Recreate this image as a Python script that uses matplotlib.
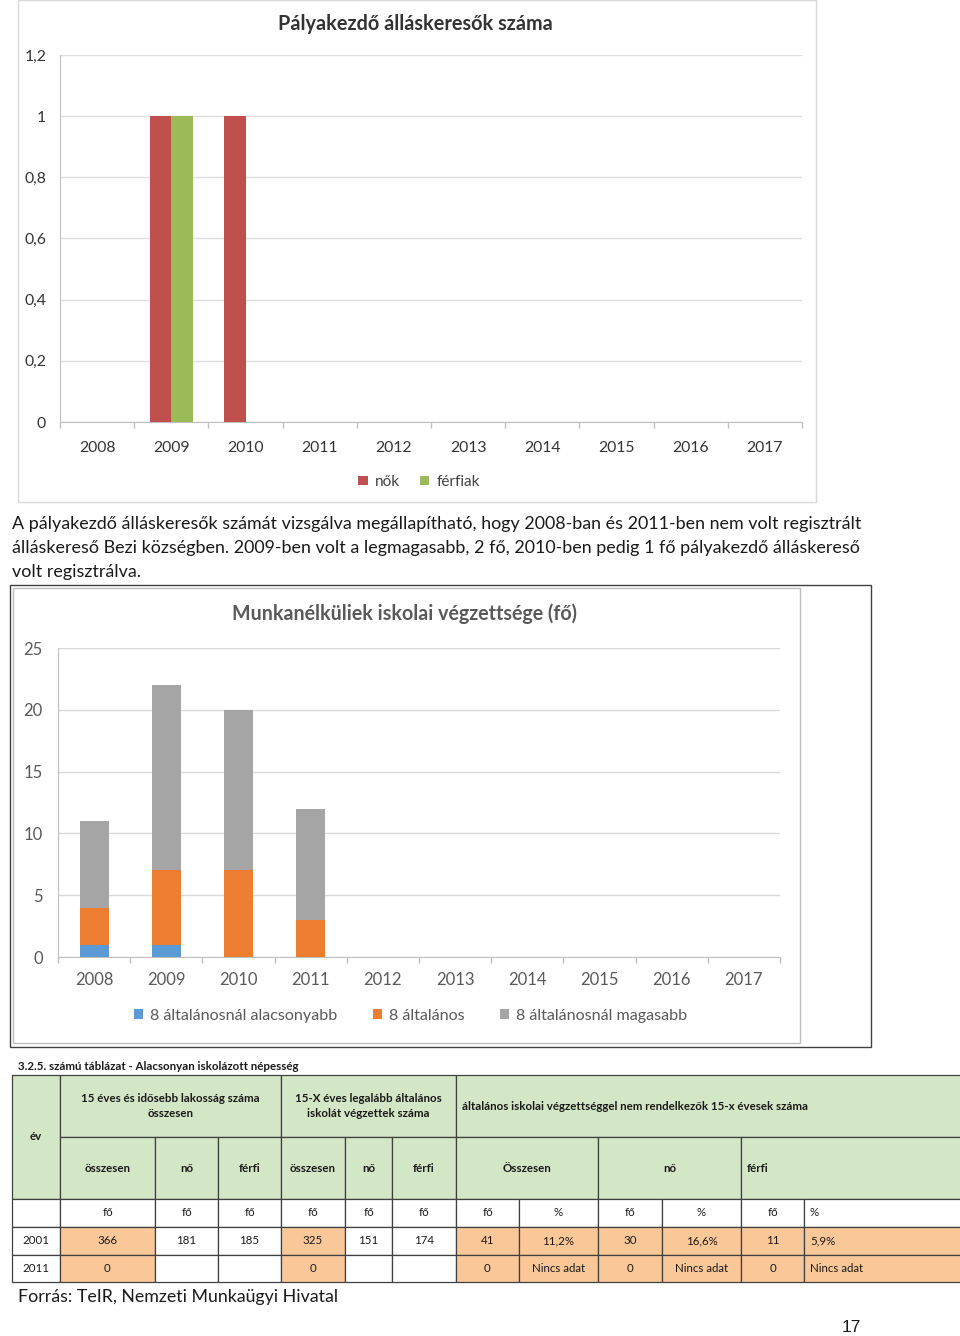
import matplotlib
matplotlib.use("Agg")
import matplotlib.pyplot as plt
from matplotlib.patches import Rectangle
import numpy as np

# ---------------- data ----------------
years = ['2008', '2009', '2010', '2011', '2012', '2013', '2014', '2015', '2016', '2017']
nok = [0, 1, 1, 0, 0, 0, 0, 0, 0, 0]
ferfiak = [0, 1, 0, 0, 0, 0, 0, 0, 0, 0]
y1_ticks = [0, 0.2, 0.4, 0.6, 0.8, 1.0, 1.2]
y1_labels = ['0', '0,2', '0,4', '0,6', '0,8', '1', '1,2']
chart1_title = 'Pályakezdő álláskeresők száma'
chart1_series = ['nők', 'férfiak']

alacsonyabb = [1, 1, 0, 0, 0, 0, 0, 0, 0, 0]
altalanos = [3, 6, 7, 3, 0, 0, 0, 0, 0, 0]
magasabb = [7, 15, 13, 9, 0, 0, 0, 0, 0, 0]
y2_ticks = [0, 5, 10, 15, 20, 25]
chart2_title = 'Munkanélküliek iskolai végzettsége (fő)'
chart2_series = ['8 általánosnál alacsonyabb', '8 általános', '8 általánosnál magasabb']

paragraph = ['A pályakezdő álláskeresők számát vizsgálva megállapítható, hogy 2008-ban és 2011-ben nem volt regisztrált',
             'álláskereső Bezi községben. 2009-ben volt a legmagasabb, 2 fő, 2010-ben pedig 1 fő pályakezdő álláskereső',
             'volt regisztrálva.']

table_caption = '3.2.5. számú táblázat - Alacsonyan iskolázott népesség'
hdr_ev = 'év'
hdr_groups = ['15 éves és idősebb lakosság száma\nösszesen',
              '15-X éves legalább általános\niskolát végzettek száma',
              'általános iskolai végzettséggel nem rendelkezők 15-x évesek száma']
hdr_sub = ['összesen', 'nő', 'férfi', 'összesen', 'nő', 'férfi', 'Összesen', 'nő', 'férfi']
units = ['', 'fő', 'fő', 'fő', 'fő', 'fő', 'fő', 'fő', '%', 'fő', '%', 'fő', '%']
row_2001 = ['2001', '366', '181', '185', '325', '151', '174', '41', '11,2%', '30', '16,6%', '11', '5,9%']
row_2011 = ['2011', '0', '', '', '0', '', '', '0', 'Nincs adat', '0', 'Nincs adat', '0', 'Nincs adat']
source = 'Forrás: TeIR, Nemzeti Munkaügyi Hivatal'
page_no = '17'

# ---------------- layout ----------------
W, H = 960, 1336
fig = plt.figure(figsize=(W / 100, H / 100), dpi=100)
renderer = fig.canvas.get_renderer()
FONT = 'Lato'


def px_axes(x0, y0, x1, y1, **kw):
    return fig.add_axes([x0 / W, 1 - y1 / H, (x1 - x0) / W, (y1 - y0) / H], **kw)


page = px_axes(0, 0, W, H)
page.set_xlim(0, W)
page.set_ylim(H, 0)
page.axis('off')
page.set_zorder(0)


def fit(x, y, s, width, ha='left', va='center', **kw):
    t = page.text(x, y, s, ha=ha, va=va, fontsize=10, family=FONT, **kw)
    bb = t.get_window_extent(renderer)
    fs = 10 * width / bb.width
    t.set_fontsize(fs)
    return fs


# chart frames
page.add_patch(Rectangle((18, 0), 798, 502, fill=False, ec='#d9d9d9', lw=1))
page.add_patch(Rectangle((10, 585), 861, 462, fill=False, ec='#404040', lw=1))
page.add_patch(Rectangle((13, 588), 787, 455, fill=False, ec='#bfbfbf', lw=1))

# ---------------- chart 1 ----------------
ax1 = px_axes(60, 55, 802, 422)
ax1.set_facecolor('none')
x = np.arange(len(years))
bw = 1 / 3.5
b1 = ax1.bar(x - bw / 2, nok, bw, color='#c0504d', zorder=3)
b2 = ax1.bar(x + bw / 2, ferfiak, bw, color='#9bbb59', zorder=3)
ax1.set_xlim(-0.5, len(years) - 0.5)
ax1.set_ylim(0, 1.2)
ax1.set_yticks(y1_ticks)
ax1.set_yticklabels(y1_labels, family=FONT, fontsize=11.3, color='#333333')
ax1.yaxis.grid(True, color='#dedede', lw=1)
ax1.set_axisbelow(True)
ax1.set_xticks(np.arange(len(years) + 1) - 0.5)
ax1.set_xticklabels([])
ax1.set_xticks(x, minor=True)
ax1.set_xticklabels(years, minor=True, family=FONT, fontsize=11.3, color='#333333')
ax1.tick_params(axis='x', which='major', length=4, color='#bfbfbf', width=1)
ax1.tick_params(axis='x', which='minor', length=0, pad=14)
ax1.tick_params(axis='y', length=0, pad=10)
for s in ['top', 'right']:
    ax1.spines[s].set_visible(False)
ax1.spines['left'].set_color('#bfbfbf')
ax1.spines['bottom'].set_color('#bfbfbf')
leg1 = ax1.legend([b1, b2], chart1_series, loc='center', bbox_to_anchor=(0.4845, -0.163), ncol=2,
                  frameon=False, handlelength=0.6, handleheight=0.6, handletextpad=0.5,
                  columnspacing=1.3, prop={'family': FONT, 'size': 11})
for t in leg1.get_texts():
    t.set_color('#404040')
fit(415, 24, chart1_title, 274, ha='center', weight='bold', color='#333333')

# ---------------- chart 2 ----------------
ax2 = px_axes(58, 648, 780, 957)
ax2.set_facecolor('none')
bw2 = 0.4
lo = np.array(alacsonyabb)
mid = np.array(altalanos)
hi = np.array(magasabb)
c1 = ax2.bar(x, lo, bw2, color='#5b9bd5', zorder=3)
c2 = ax2.bar(x, mid, bw2, bottom=lo, color='#ed7d31', zorder=3)
c3 = ax2.bar(x, hi, bw2, bottom=lo + mid, color='#a5a5a5', zorder=3)
ax2.set_xlim(-0.5, len(years) - 0.5)
ax2.set_ylim(0, 25)
ax2.set_yticks(y2_ticks)
ax2.set_yticklabels([str(v) for v in y2_ticks], family=FONT, fontsize=12, color='#595959')
ax2.yaxis.grid(True, color='#d9d9d9', lw=1)
ax2.set_axisbelow(True)
ax2.set_xticks(np.arange(len(years) + 1) - 0.5)
ax2.set_xticklabels([])
ax2.set_xticks(x, minor=True)
ax2.set_xticklabels(years, minor=True, family=FONT, fontsize=12, color='#595959')
ax2.tick_params(axis='x', which='major', length=4, color='#bfbfbf', width=1)
ax2.tick_params(axis='x', which='minor', length=0, pad=11)
ax2.tick_params(axis='y', length=0, pad=11)
for s in ['top', 'right']:
    ax2.spines[s].set_visible(False)
ax2.spines['left'].set_color('#bfbfbf')
ax2.spines['bottom'].set_color('#bfbfbf')
leg2 = ax2.legend([c1, c2, c3], chart2_series, loc='center', bbox_to_anchor=(0.488, -0.191), ncol=3,
                  frameon=False, handlelength=0.6, handleheight=0.6, handletextpad=0.4,
                  columnspacing=2.2, prop={'family': FONT, 'size': 11.6})
for t in leg2.get_texts():
    t.set_color('#595959')
fit(405, 614, chart2_title, 346, ha='center', weight='bold', color='#595959')

# ---------------- paragraph ----------------
fs_p = fit(12, 524, paragraph[0], 848, color='#1a1a1a')
fit(12, 548, paragraph[1], 848, color='#1a1a1a')
page.text(12, 572, paragraph[2], ha='left', va='center', fontsize=fs_p, family=FONT, color='#1a1a1a')

# ---------------- table ----------------
col_x = [12, 60, 155, 218, 281, 345, 392, 456, 519, 598, 662, 741, 804, 964]
row_y = [1075, 1137, 1199, 1227, 1255, 1282]
GREEN = '#d3e6c5'
ORANGE = '#fac898'
EDGE = '#404040'

fs_caption = fit(18, 1066, table_caption, 278, weight='bold', color='#1a1a1a')
fs_t = fit(462, 1106, hdr_groups[2], 343, weight='bold', color='#1a1a1a')


def cell(c0, c1, r0, r1, fc):
    page.add_patch(Rectangle((col_x[c0], row_y[r0]), col_x[c1] - col_x[c0], row_y[r1] - row_y[r0],
                             fc=fc, ec=EDGE, lw=0.9))


def ctext(c0, c1, r0, r1, s, bold=False, left=False):
    yc = (row_y[r0] + row_y[r1]) / 2
    if left:
        page.text(col_x[c0] + 6, yc, s, ha='left', va='center', fontsize=fs_t, family=FONT,
                  weight='bold' if bold else 'normal', color='#1a1a1a')
    else:
        page.text((col_x[c0] + col_x[c1]) / 2, yc, s, ha='center', va='center', fontsize=fs_t,
                  family=FONT, weight='bold' if bold else 'normal', color='#1a1a1a',
                  linespacing=1.5)


# header row 1
cell(0, 1, 0, 2, GREEN)
ctext(0, 1, 0, 2, hdr_ev, bold=True)
grp_spans = [(1, 4), (4, 7), (7, 13)]
for (a, b), s in zip(grp_spans, hdr_groups):
    cell(a, b, 0, 1, GREEN)
    if b != 13:
        ctext(a, b, 0, 1, s, bold=True)
# header row 2
sub_spans = [(1, 2), (2, 3), (3, 4), (4, 5), (5, 6), (6, 7), (7, 9), (9, 11), (11, 13)]
for (a, b), s in zip(sub_spans, hdr_sub):
    cell(a, b, 1, 2, GREEN)
    ctext(a, b, 1, 2, s, bold=True, left=(b == 13))
# units row
for i, s in enumerate(units):
    cell(i, i + 1, 2, 3, 'white')
    ctext(i, i + 1, 2, 3, s, left=(i == 12))
# data rows
orange_cols = {1, 4, 7, 8, 9, 10, 11, 12}
for r, row in zip([3, 4], [row_2001, row_2011]):
    for i, s in enumerate(row):
        cell(i, i + 1, r, r + 1, ORANGE if i in orange_cols else 'white')
        ctext(i, i + 1, r, r + 1, s, left=(i == 12))

fit(18, 1297, source, 319, color='#1a1a1a')
page.text(851, 1328, page_no, ha='center', va='center', fontsize=12.5, family='Liberation Sans',
          color='#1a1a1a')

fig.savefig('out.png', dpi=100)
